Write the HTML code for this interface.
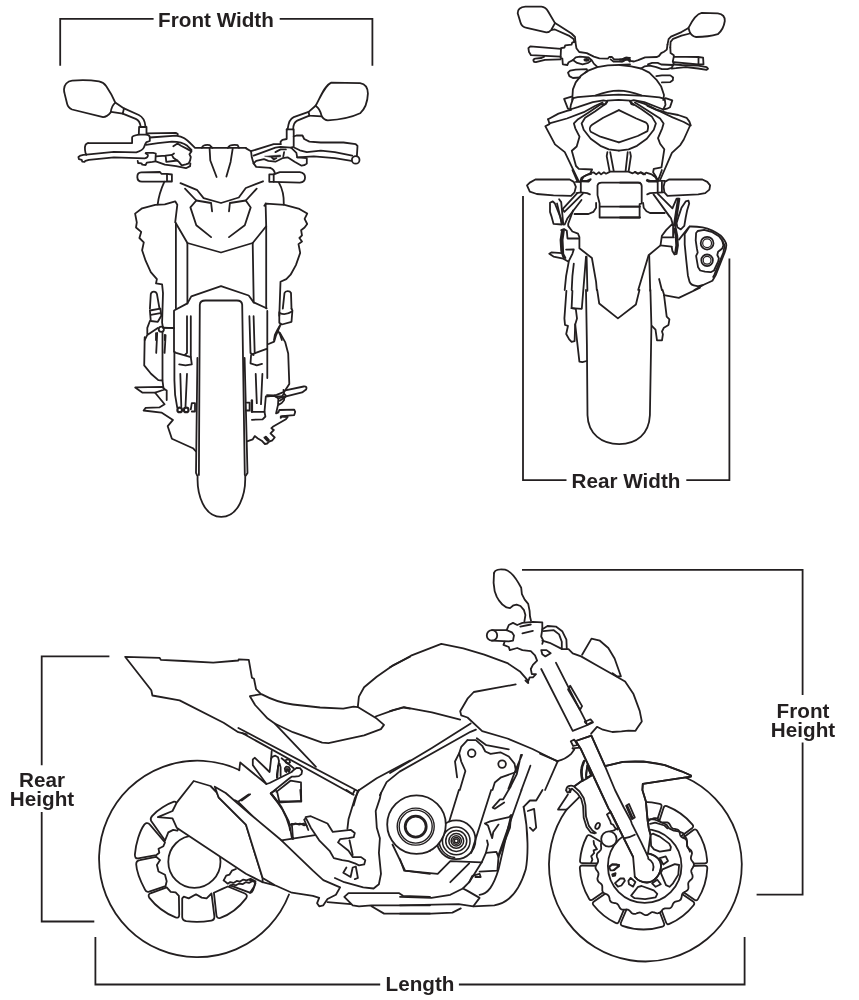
<!DOCTYPE html>
<html><head><meta charset="utf-8">
<style>
html,body{margin:0;padding:0;background:#fff;}
body{width:859px;height:1000px;overflow:hidden;position:relative;font-family:"Liberation Sans",sans-serif;}
svg{position:absolute;left:0;top:0;display:block;}
.lbl{position:absolute;font-weight:bold;font-size:19.5px;line-height:19px;color:#231f20;text-align:center;white-space:nowrap;transform:translateX(-50%) scaleX(1.06);will-change:transform;}
</style></head><body>
<svg width="859" height="1000" viewBox="0 0 859 1000">
<g id="dims" fill="none" stroke="#231f20" stroke-width="1.8" stroke-linecap="butt" stroke-linejoin="miter">
<path d="M60.2 65.8V18.9H153.6"/>
<path d="M279.7 18.9H372.4V65.8"/>
<path d="M523 196V480.2H566.5"/>
<path d="M686.3 480.2H729.4V258.4"/>
<path d="M109.4 656.3H41.7V765.3"/>
<path d="M41.7 812V921.5H94.3"/>
<path d="M522 569.9H802.6V695"/>
<path d="M802.6 742.4V894.6H756.6"/>
<path d="M95.4 937V984.5H380.2"/>
<path d="M458.9 984.5H744.6V937"/>
</g>
<g id="front" fill="none" stroke="#231f20" stroke-width="1.8" stroke-linecap="round" stroke-linejoin="round">
<path d="M64 89.2C64.1 85.1 67.2 81 72.1 80.6C79.4 80 91.7 80.2 99 81.4C102.3 82.1 104.7 83.9 106.3 86.3C109.6 91.2 113.3 97.7 115.3 102.6C112.9 104.6 111.2 108.3 110.7 112.4C108.8 114.8 106.3 117.1 103.1 117.1L72.1 109.5C69.3 108.3 67.6 105.9 67.1 103.8L64.6 93.6C64.1 92 64 90.4 64 89.2Z"/>
<path d="M115.6 102.7L124 108.4L122.7 113.7L111.2 111.9"/>
<path d="M124 108.4L138.8 115C143.2 117.1 144.9 120.6 145.4 126.2"/>
<path d="M122.7 113.7L135.7 118.9C139.2 120.6 140.2 123.3 140.6 126.2"/>
<path d="M139.1 127L146.5 127L146.5 134.4M139.1 127L138.8 134.4"/>
<path d="M88.1 143.1L132.1 143.1L132.1 137.5C132.1 136.1 134.2 135.4 138.8 134.7L146.8 134.7C148.9 135.1 149.8 136.1 149.8 137.5L149.8 141L146.5 142.1C145.1 143.7 144.7 145.8 144 147.2C143.3 149.3 141.9 150.5 136.3 152.4L113.9 151.9L86.3 154.6"/>
<path d="M88.1 143.1C85.6 143.5 84.6 146.5 85 150C85.3 152.8 86 154.2 86.3 154.6"/>
<path d="M86.3 154.6L83.3 154.9L80.5 155.6L78.4 157L78.9 159.1L81.7 159.8L82.2 161.6L84.5 161.9L85.4 160.8L88.9 159.8L113.9 157.4L144.7 158.4C147 158 148.2 156.6 147.9 154.9L145.6 153.2"/>
<path d="M137.7 160.8L138.1 163L141.5 163.3L142.3 164.7L145.6 165L146.8 162.6L152.4 161.9L155.4 161.4L155.8 153.5L153.1 152.8L146.1 152.8"/>
<path d="M147 133.3L176.1 132.9L177.8 134L177.5 135.4"/>
<path d="M149.8 137.5L176.1 135.6C183.1 136.5 185.9 138.9 191.5 144.4L195 147.9L246 147.9"/>
<path d="M146.1 144.9L157.9 143.1L171.9 141.7C178.2 141.7 183.8 143.1 187.3 145.8L191.5 150"/>
<path d="M173.3 146.3L177.5 143.5L181 145.8L186.6 148.6L191.5 151.4L189.4 154.2L190.8 157L190.1 160.5L188.7 163.3L185.9 164.4L181.7 165.4L178.9 161.9L176.1 159.8L173.3 157.7L171.9 154.9L174 153.5"/>
<path d="M155.8 156.3L165.6 155.6L171.9 154.9M165.6 155.6L166.3 161.9L177.5 160.5"/>
<path d="M155.8 161.4L164.9 164.7L176.1 166.1L185.9 168.2L190.1 166.1L190.4 163.3"/>
<path d="M141.2 172.4C135.9 172.8 135.9 181.5 141.9 181.7L167 181.5M141.2 172.4L160 172L161.4 173.8L167 173.8L171.9 174.5L171.9 181.5L167 181.5L167 173.8"/>
<path d="M201.9 147.9C202.6 145.1 205.4 144.6 209.6 145.1L212.4 147.9M227.8 147.9C229.2 145.1 233.4 144.6 237.6 145.1L239 147.9"/>
<path d="M209.6 148.6L210.3 160.5L216.6 177M232.7 148.6L230.6 161.9L226.4 176.6"/>
<path d="M180.5 183.2L197.3 190.2L203.6 198.1L221 203L238.8 197.5L245.8 188L263 181.3"/>
<path d="M185 188.6L196.3 200.5L190.4 207.4L196.3 225.2L211.1 237.1"/>
<path d="M196.3 200.5L211.1 203L212.1 211.3"/>
<path d="M256.7 188.6L245.8 200.5L250.7 207.4L244.8 225.2L229 237.1"/>
<path d="M245.8 200.5L229.9 203L229 211.3"/>
<path d="M175.9 223.2L187.4 243L221 252.5L252.7 243L266.2 226.2"/>
<path d="M164.4 181.7C161.7 187.6 158.7 195.5 157.7 204.4"/>
<path d="M175.9 308.3L175.9 223.2"/>
<path d="M187.4 243L187.4 303.4"/>
<path d="M252.7 243L253.7 302.4"/>
<path d="M266.2 308.3L266.2 226.2L265.6 203.4"/>
<path d="M174.5 310.3L187.4 303.4L191.3 296.4L221 286.2L248.7 295.5L253.7 302.4L266.6 308.3"/>
<path d="M331.3 82.6L360.1 83.1C365.3 84 367.9 87.5 367.9 93.6C367.6 101.4 364.5 109.3 360.1 113.3C352.2 117.1 338.3 119.8 327.8 120.3C325.2 120.3 323.4 118.9 321.7 116.3C320.8 111.9 319.1 108.1 315.6 105.8C320.8 96.2 325.2 84.8 331.3 82.6Z"/>
<path d="M315.6 105.8L308.6 111.9L309.4 115.7L321.7 116.3"/>
<path d="M308.6 111.9L293.7 117.1C290.2 118.5 288.5 121.5 287.6 129.4"/>
<path d="M309.4 115.7L297.2 120.6C294.3 122 293.2 125 293.2 129.4"/>
<path d="M286.7 129.4L293.7 129.4L293.7 146.8L291.1 147.7"/>
<path d="M286.7 129.4L286.7 139L282.4 139.8L280.6 141.6L280.6 144.2"/>
<path d="M293.7 136.4L296.4 135.5L302.5 135.5L304.2 139L309.4 141.6L320.8 142.5L343.5 142.5L355.7 144.2L357.5 146L356.9 155.9"/>
<path d="M294.6 147.7L299.8 150.3L306.8 152.1L320.8 150.7L334.8 152.1L352.2 155.6"/>
<path d="M297.2 157.3L313.8 156.4L334.8 158.2L351.4 160.8"/>
<circle cx="355.7" cy="159.9" r="3.8"/>
<path d="M251 151.2L273.7 144.2L280.6 144.2"/>
<path d="M253.6 155.6L275.4 147.7L280.6 146.8L291.1 147.7L296.4 152.9L297.2 157.3L306.8 158.2L306.8 163.4L304.2 165.2L301.6 165.7L294.6 161.7L287.6 157.3L282.4 158.2L275.4 161.7L268.4 160.8L264 159.1L256.2 160.8L253.6 163.4L256.2 166.9L270.2 167.8"/>
<path d="M275.4 152.1L280.6 149.4L285.9 149.4M284.1 152.1L283.3 156.4"/>
<path d="M271.9 157.7L273.7 159.4L276.3 158.2"/>
<path d="M264.9 156.2L280.6 155V156.8L271.9 157.5Z" fill="#231f20" stroke-width="0.5"/>
<path d="M246.1 148.4L251 151.2L251.8 157.3L253.6 163.4"/>
<path d="M269.3 174.4L273.7 174.4L273.7 181.8L269.3 181.8Z"/>
<path d="M273.7 174.4L279.8 172.1L299.8 172.1C306.8 173 306.8 181.8 299.8 182.6L273.7 181.8"/>
<path d="M270.2 167.8C272.8 168.7 274.5 171.3 275 173.4"/>
<path d="M278.9 182.6C282.4 188.7 284.1 195.7 283.8 204.5"/>
<path d="M264.4 205.7L266.2 203.6L284.5 204.8L299.4 208.9L307.2 213.6L304.6 218.8L307.2 224L304.6 227.5L301.1 230.2L302 235.4L299.4 238L302 241.5L298.5 244.1L300.2 252.9L295.9 265.1L290.6 274.7L286.3 279.1L280.5 281.7L279.3 315.7"/>
<path d="M282.8 308.7L284.5 293C285.4 290.4 289.8 290.4 291 293L291.5 308.7"/>
<path d="M279.3 312.2L279.3 322.7L281.9 324.5L291.5 321.8L292.4 310.5L291.5 308.7"/>
<path d="M279.8 313.1C283.7 314.8 288 314 292 311.4"/>
<path d="M280.5 324.5L277.5 329.7L274.9 334.9L274 340M277.5 329.7L280.2 334.9L281.9 340"/>
<path d="M175.2 222.3L177.3 204.8L175.2 201.3L164.8 204.3L155.2 204.8L142.1 208.3L135.1 213.6L136.8 222.3L136 227.5L141.2 231.9L139.4 238L143.8 242.4L142.1 250.2L145.6 260.7L150.8 272.1L156.9 279.1L156 283.4L162.1 284.3L163 293L162.1 322.7L163 327.9L173.5 327.9"/>
<path d="M149.9 308.7L150.8 293.9C151.7 290.9 156 290.9 156.9 293.9L159.5 308.7"/>
<path d="M149.9 310.5L160.4 308.7L161.3 315.7L157.8 321.8L150.8 321Z"/>
<path d="M150.8 314.8L160.4 313.1"/>
<path d="M149.9 321L147.3 327.9L147.3 334.9L144.7 340M147.3 334.9L157.8 327.9"/>
<circle cx="161.3" cy="329.3" r="2.6"/>
<path d="M156 340L156 333.2M164.8 340L164.8 334.9"/>
<path d="M198.9 475L199.8 304.7C200 301.5 202.3 300.5 205.4 300.5L236.9 300.5C240.6 300.5 241.9 301.7 242.2 304.7L244.8 475"/>
<path d="M174 311L174 351.8L176.1 352.9L190.8 357.1L191.8 364.4L185.5 365.4L179.2 364.4"/>
<path d="M267.3 311L267.3 378M267.3 348.7L255.7 352.9L251.1 355L250.5 363.3L256.8 365.4L262 363.8"/>
<path d="M187 316.2L187 352.9L184.9 355M190.8 316.2L190.8 357.1"/>
<path d="M249.4 316.2L250.5 352.9L253.6 355M253.6 316.2L254.7 352.9"/>
<path d="M174.4 351.8L174.4 380.1L175.1 394.8L177.2 407.4M180.3 373.8L181.3 406.3M187 373.8L185.5 406.3"/>
<circle cx="179.7" cy="409.9" r="2.3" stroke-width="2.2"/>
<circle cx="186.2" cy="409.9" r="2.3" stroke-width="2.2"/>
<path d="M190.8 409.4L191.8 403.2L195 403.2L195 411.5L191.8 411.5"/>
<path d="M255.7 373.8L256.8 403.2M262.4 373.8L261 404.2"/>
<path d="M144.7 337.2L144.2 365.4L151 373.8L158.3 380.1L162.5 380.5L163.5 388.5L166.7 390.6L166.7 400"/>
<path d="M157.2 333L156.2 352.9M162.5 331.9L162.5 380.1M165.6 335.1L164.6 352.9"/>
<path d="M163.5 327.7L174 328.1"/>
<path d="M135.2 387.4L162.5 386.8L164.6 389.5L155.1 392.7L142.6 392.7Z"/>
<path d="M155.1 392.7L164.6 404.2L159.3 407.4L145.7 407.8L143.6 410.5L161.4 412.6L173 419.9L167.7 426.2L171.9 438.8L192.9 448.2L196 451.4"/>
<path d="M197.4 358L196 472.9L197.6 476.5C196.9 494.1 203.8 516.9 221.2 516.9C238.8 516.9 245.8 494.1 245.2 476.5L247.5 472.9L244.6 358"/>
<path d="M279.8 326.4L275.8 336L274.2 341.6L268.6 344"/>
<path d="M279.8 332.8L285.3 342.4L288.2 353.5L289.3 383.9L284.1 391.9L276.6 394.8L273.4 395.4L267 395.1"/>
<path d="M285.3 390.3L303.7 386.5Q307.7 386.2 306.1 389.5L302.1 392.4L286.1 396.4L279.8 400.7"/>
<path d="M246.8 402.6L249.6 402.6L249.6 410.5L246.8 410.5"/>
<path d="M251.9 400.5V411.6" stroke-width="2.4"/>
<path d="M251.9 411.9L264.5 411.9L265.8 396.5L272.8 395.8L275.6 396.5L278.4 398.4L278 404.9L276.1 413.3L278.4 412.3L279.3 410L294.2 409.6L295.2 411.9L294.2 415.1L282.1 416.1L280.7 417.9"/>
<path d="M251.9 419.8L262.6 419.3L265.4 416.5L264.5 411.9"/>
<path d="M283.5 390L284 393.7L282.1 396.1L275.6 396.5M284 393.7L285.9 395.6"/>
<path d="M278.4 398.4L284.5 396.5L284 400.2L281.7 403L278.4 404.9"/>
<path d="M280.7 416.5L287.7 417L285.9 419.3L272.8 426.8L271.4 428.2L273.8 430L270.5 433.3L274.7 437.5L272.4 440.3L269.1 441.7L267.2 443.5L264.9 444L261.7 440.7L257.9 438.4L254.7 436.1L252.8 439.3L247.7 441.2"/>
<path d="M264.5 437.5L267.5 440.8M265.8 436.8L268.8 440" stroke-width="2"/>
</g>
<g id="rear" fill="none" stroke="#231f20" stroke-width="1.8" stroke-linecap="round" stroke-linejoin="round">
<path d="M517.7 13.3C517.7 9.1 520.5 7 525.4 6.7L541.4 6.7C544.9 7 546.6 8.7 548 11.2L555 23.1L551.2 30C549.8 31.9 548.4 32.4 546.3 32.4L526.8 27.9C523.3 27.2 521.2 25.1 520.5 22.4Z"/>
<path d="M555 23.1L558.2 25.1L571.5 33.5L575 37L575.4 41.9"/>
<path d="M551.9 30L554.4 29.3L568.7 35.6L573.6 39.1L574.3 41.9"/>
<path d="M574.3 41.9L572.2 42.6L571.5 44.7L565.2 45.4L564.5 47.5L561 48.2L560.6 58L562.4 58.7L562.8 64.3L567.3 65L568.7 62.2L572.9 60.1L575.7 57.3L579.9 56.6L588.2 57.3L591.7 60.1L593.8 63.6L597.3 66.8"/>
<path d="M575.4 41.9L576.4 48.2L579.2 52L586.8 53.1L593.8 56.6L599.4 58.4L607.8 58.7L609.2 57L612 57L614.1 59.4L621.8 59.4L626 57.6L630 58"/>
<path d="M610.6 59.4L613.4 61.5L621.8 61.5L626 59.4L630 60.1"/>
<path d="M572.9 60.1L577.1 62.9L582.6 64.3L588.2 62.9L591 60.8"/>
<ellipse cx="586.6" cy="59.8" rx="2.2" ry="1" fill="#231f20"/>
<path d="M561 48.9L530.3 46.4L528.4 48.2L528.9 51.7L531 55.2L560.6 56.6"/>
<path d="M560.6 59.4L544.9 59.8L535.8 62.2C533.1 62.2 532.4 59.4 535.1 58.7L541.4 58L544.2 56.6"/>
<path d="M585.4 72.6L587.5 71.2L586.8 69.2L575.7 69.6L570.1 70.6L568 72.6L569.4 76.1L572.9 78L579.9 77.5"/>
<path d="M572.2 100L572.9 89.4L575.7 82.4L581.2 75.4L588.2 70.6L597.3 67.1L607.8 65.4L630 64.5"/>
<path d="M701.7 12.9L717.8 13.3C722.7 14 725.1 16.8 724.8 21C724.1 25.8 721.3 31.4 717.8 34.2C710.8 36.3 702.4 37 696.1 37C693.3 36.6 691.2 34.9 689.9 32.4L688.5 27.9C691.2 22.4 696.1 14 701.7 12.9Z"/>
<path d="M688.5 27.9L681.5 32.1L671 36.6L668.6 39.1L667.5 44.7"/>
<path d="M689.9 33.5L681.5 35.6L673.1 38.8L670.6 41.9L670.3 47.5"/>
<path d="M667.5 44.7L666.8 49.6L664 51.7L661.2 53.1L659.1 55.9L657 57L645.1 57.3L638.2 60.1L634 61.5L630.5 60.8L628.4 58L626.3 57.6L622.8 59.4L620 59.4"/>
<path d="M629.8 61.5L627.7 59.4L625.6 59.8L622.8 61.5L620 61.2"/>
<path d="M670.3 47.5L670.6 53.1L673.8 55.2L673.8 56.6"/>
<path d="M673.8 56.6L698.2 57L703.1 57.6L703.5 64.3L698.2 64.5L673.8 62.2M698.5 57L698.5 64.5M673.8 56.6L672.8 61.5L673.8 64.5"/>
<path d="M673.8 64.5L681.5 65L698.2 65.7L706.6 67.1L708 68.7L706.6 69.9L698.2 68.5L685.7 67.1L675.9 68.2L671.7 68.5"/>
<path d="M647.9 64.3L652.1 62.9L657.7 62.9L661.2 64.5L673.1 65"/>
<path d="M641 68.5L644.4 66.4L650 65.7L656.3 67.1L661.9 69.2L667.5 69.2L671.7 67.8L673.1 65"/>
<path d="M656.3 76.1L661.9 75.4L670.3 75.4L673.1 77.5L672.8 80.3L670.3 82.1L661.9 82.4"/>
<path d="M620 65L631.2 66.4L641 68.5L649.3 72.6L656.3 79.6L661.2 86.6L664 95L663.3 100"/>
<path d="M548.1 119.2L558.5 113.6L566.9 110.8L571.1 109.9"/>
<path d="M548.1 119.2L549.4 123.4L566.9 118.5L583.7 112.2L594.9 106L602.5 102.5"/>
<path d="M549.4 124.1L545.3 126.2L555 144.4L564.8 152.1L578.8 181.4"/>
<path d="M603.2 103.9L600.4 104.6L587.9 112.9L578.1 119.2L573.9 123.4L575.3 128.3L579.5 136.7L576.7 146.5L571.8 150.7L576 166L578.8 168.8L592.1 169.5L590.7 172.3"/>
<path d="M607.4 101.1L606.7 102.5L604.6 104.6L594.9 111.5L585.1 117.8L581.6 123.4L583.7 129.7L590.7 138.8L600.4 145.8L608.8 149.3L618.9 150.7"/>
<path d="M618.9 110.1L603.2 117.8L592.1 124.8C589.5 126.6 589.3 129.7 590.7 131.8L600.4 136.7L618.9 142.3"/>
<path d="M607.4 152.1L606.7 156.2L609.5 170.9M610.2 152.1L613.7 170.9M627.7 152.1L625.6 170.9M630.1 152.1L630.9 156.2L628.7 170.9"/>
<path d="M580.9 181.4L583.7 176.5L590.7 173L593.5 172.3L596.2 174.4L599 172.3L601.1 174.4L603.9 172.3L606 173.7L610.2 171.6L628.4 171.6L632.6 173.3L635.4 171.9L638.2 173.7L641 172.3L645 174.4"/>
<path d="M580.9 181.4L588.6 181.7L590.7 179.3"/>
<path d="M618.9 110.1L636.3 118.5L646.1 122.7C648.2 124.1 648.6 126.9 647.5 131.1L637.7 136L618.9 142.3"/>
<path d="M630 101.1L632.1 103.2L641.9 109.4L651.7 116.4L655.9 123.4L653.8 129.7L646.8 138.8L637 145.8L628.6 149.3L618.9 150.7"/>
<path d="M634.9 102.5L640.5 106L650.3 112.2L660.1 118.5L663.6 123.4L662.2 128.3L658 138.1L660.1 143.7L664.3 149.3L661.5 167.4L653.8 168.8L653.1 172.3L655.9 176.5L657.3 181.4"/>
<path d="M636.3 101.1L644.7 103.9L655.9 109.4L667.1 112.9L678.2 115L686.6 117.8L689.4 121.6L690.8 125.5"/>
<path d="M647.5 106L658.7 110.8L672.6 117.4L683.8 122L690.1 125.5L683.8 139.5L680.3 145.1L671.9 152.8L660.1 180"/>
<path d="M634.9 171.9L637.7 173.7L640.5 172.3L643.3 174.4L646.1 172.7L651.7 174.4L655.9 177.2L657.3 181.4"/>
<path d="M646.8 180.7L648.9 181.7L657.3 181.7"/>
<path d="M527 185.4L529.8 182.6L535.4 179.5L569.6 179.5L573.8 181.9L575.9 186.8L574.5 192.4L571 195.8L553.5 195.4L536.8 194L529.8 191.7Z"/>
<path d="M575.9 181.9L580.8 181.9L580.8 192.4L576.6 193.1"/>
<path d="M572.4 170L577.3 181.2"/>
<path d="M580.1 181.9L581.5 177.7L587.1 174.9L591.2 173.9"/>
<path d="M580.8 180.9L587.1 180.9L589.9 179.5M580.8 192.4L587.1 193.1L589.9 194.4"/>
<path d="M597.5 195.1L597.5 185.4C598 183.3 599.6 182.6 601.7 182.6L640 182.6M597.5 195.1L599.6 203.5L599.6 217.5L640 217.5M599.6 206.6L640 206.6"/>
<path d="M596.1 202.8L596.1 207.7L593.3 211.9L588.5 214L574.5 214"/>
<path d="M577.3 193.1L562.6 209.1L564.4 211.9L582.9 193.7M581.5 200L567.5 218.2L564.7 224.5"/>
<path d="M573.1 210.5L568.2 223.8L568.2 225.9L572.4 231.5L578 233.6L579.4 237.1L579.4 248.2L591.9 258L596.1 281.8L596.8 290"/>
<path d="M550 202.8L552.8 201.4L554.9 203.5L557.7 210.5L560.5 217.5L561.9 224.5L553.5 223.8L551.4 216.1L550 211.9Z"/>
<path d="M559.1 199.3L561.2 202.1L563.3 224.5M557 203.5L561.9 223.8"/>
<path d="M561.2 230.1L564 229L566.8 230.8L567.5 238.5L578.7 238.5"/>
<path d="M561.9 230.8L560.5 239.9L561.2 251L563.3 257.3M564 230.1L562.6 239.9L563.3 253.8L565.4 258M563 230.4L561.6 239.9L562.3 252.4L564.4 257.7"/>
<path d="M549.3 253.8L551.4 252.4L561.9 253.1M549.3 253.8L553.5 256.6L563.3 258.7L568.2 261.5"/>
<path d="M566.1 249.6L573.8 249.4L572.4 253.8L568.9 260.8L566.1 276.2L564.7 290"/>
<path d="M573.8 263.6L572.4 276.2L571.7 290"/>
<path d="M620 182.6L638.2 182.6C640.7 182.9 641.7 184 641.7 186.1L641.7 203.5L639.6 204.2L639.6 217.5L620 217.5M620 206.6L639.6 206.6"/>
<path d="M653.5 175.6L657 178.4L657.7 181.2L657.7 192.4M661.9 181.9L661.9 191.7"/>
<path d="M647.2 179.8L650 180.9L664.7 180.9M647.2 194.4L650 193.1L663.3 192.4"/>
<path d="M661.9 170L659.1 177.7L657.7 181.2"/>
<path d="M664.7 181.9L668.9 179.5L702.4 179.5L707.3 181.9L710.1 185.4L709.4 189.6L705.2 193.1L698.2 194.4L667.5 195.8L664.4 192.4L663.6 186.8Z"/>
<path d="M643.1 202.8L643.7 207.7L646.5 211.2L650 213L664.7 213"/>
<path d="M653.5 194.4L671 218.2L672.4 223.1M657.7 193.7L672.4 208.4L676.6 198.6L679.4 198.6M655.6 197.2L669.6 216.8"/>
<path d="M685.7 201.4L688.5 200.7L689.2 203.5L687.1 210.5L685.7 217.5L684.3 225.9L680.8 229.4L677.3 227.3L676.6 223.1L678.7 216.1L681.5 207.7Z"/>
<path d="M678 198.6L675.9 211.9L673.8 225.9M679.4 199.3L677.3 213.3L675.2 228.7"/>
<path d="M675.9 228.7L677.3 235.7L678 245.4L676.6 253.8L674.5 254.5L672.4 251L671.7 246.8M674.2 228.7L675.6 235.7L676.2 245.4L675.2 252.4"/>
<path d="M672.4 223.8L666.1 230.1L661.9 235.7L660.5 245.4L671.7 246.6M661.9 237.1L673.8 237.3M673.1 224.5L673.1 237.1"/>
<path d="M660.5 245.4L648.6 255.2L638.2 290M659.1 279L661.9 290"/>
<path d="M586 289.9L586.9 344.5L587.5 415.3C588.1 433.9 601.5 444.1 619.2 444.1C636.9 444.1 649 433.9 649.9 415.3L651.4 325.9L650.4 289.9"/>
<path d="M597.2 289.9L599.2 303.5L617.9 318.4L635.9 304.5L639.5 289.9"/>
<path d="M662.6 289.9L663.9 294.2L666.7 316.6L669.4 319.4L668.5 324.9L663.9 327.7L662 331.5L662.9 334.3L662 340.4L657 340.4L655.5 329.6L651.8 325.9"/>
<path d="M663.9 295.1L678.8 297.9L700 287.7"/>
<path d="M573.2 98.1L577.7 97.1L592.8 95.9L618.6 94.6L644.3 95.9L659.4 97.4L664.7 98.9L665.5 104.9L663.2 109.5"/>
<path d="M595.9 95.4C604.9 92.1 612.5 90.7 618.6 90.6C624.6 90.7 632.2 92.1 641.3 95.4"/>
<path d="M573.2 98.1L570.9 104.9L570.1 109.5L577.7 107.2L592.8 102.2L603.4 100.4L607.2 101.2L605.7 104.2L603.4 104.9"/>
<path d="M663.2 109.5L659.4 108L644.3 102.2L633.7 100.1L629.9 101.2L631.4 104.2L633.7 104.9"/>
<path d="M607.2 100.7L618.6 99.8L630.2 100.7"/>
<path d="M571.6 96.6L564.1 98.9L567.9 108.7L570.1 109.5"/>
<path d="M665.5 98.1L672.3 100.4L670 107.2L667 108.7L663.2 109.5"/>
<path d="M586.6 256.6L587.4 290.8"/>
<path d="M586 256.6L581.8 308.8L571.6 308.2"/>
<path d="M566.4 290.8L564.4 318.4L565 325L568 325.8L566.2 334L569.2 339.4L571.6 341.8L574.6 341.2L575.2 324.4L577 318.4L575.8 308.8L571.6 308.2L572.4 290.8"/>
<path d="M575.2 324.4L579.4 361.6L582.4 362.2L586.6 361"/>
<path d="M649.2 255.4L650.2 290.8"/>
<path d="M679 239.6L688.7 227.3L689.6 226.5C694.4 226.4 698.5 226.7 702.6 227.3C706.7 228.1 709.9 229.4 712.4 230.6C715.6 232.2 718.5 233.9 720.5 235.5C722.6 237.5 723.8 239.2 724.6 240.4C726.2 242.8 726.6 244.4 726.2 246.1C726.1 248.5 725.4 250.6 724.6 252.6L715.6 275.4L712.4 280.7L702.6 285.2C700.2 286.2 697.7 286.2 696.1 285.8C692.8 285.6 690.4 284 689.6 281.9L687.9 275.4L686.3 260.7L684.7 244.4L684.7 233.9L689.6 226.5"/>
<path d="M696.1 233L697.7 231L704.2 229.8L712.4 232.2L718.9 236.3L722.2 240.4L723.4 245.3L722.2 248.5L718.1 251.8L717.3 255L718.9 258.3L718.1 261.6L714 270.5L710.7 272.2L705 271.7L700.2 270.5L698.1 267.3L696.9 260.7L696.1 255.9L697.7 252.6L696.9 248.5L695.7 240.4Z"/>
<path d="M722.2 240.4L724.6 245.3L723.4 252.6L714.4 274.6L713.2 277"/>
<path d="M694.4 290L702.6 285.2"/>
<circle cx="707.1" cy="243.2" r="6.4"/><circle cx="707.1" cy="243.2" r="4.4" stroke-width="1.2"/>
<circle cx="707.1" cy="260.3" r="5.8"/><circle cx="707.1" cy="260.3" r="3.9" stroke-width="1.2"/>
</g>
<g id="side" fill="none" stroke="#231f20" stroke-width="1.8" stroke-linecap="round" stroke-linejoin="round">
<path d="M260.3 693.4L256.1 689.2L254 678.8L251.9 677.7L248.8 659.9L238.7 659.3L238.3 660.5L213.2 662.6L183.8 661L160.8 659.9L159.7 657.8L125.1 656.8L151.3 690.3L152.4 695.5L179.6 700.4L223.6 722.8L238.3 732.2L246.7 734.3"/>
<path d="M239.3 770A98.3 98.3 0 1 0 289 894.5"/>
<path d="M239.2 770.4L240.2 762.5L266.4 784L269.6 783L291.6 772L293.7 769.9L296.8 767.8L300 768.1L302.1 770.9L301.5 774.1L298.9 776.1L294.7 776.7L291.6 776.7L289.5 778.2L270.6 793.4L278 802.9L282.2 809.2L286.3 817.5L289.5 827L290 830"/>
<path d="M276.9 777.7L276.9 774.6L279 761L278 757.3L275.3 755.7L272.2 756.8L271.1 758.9L269.6 772L254.9 757.8L252.8 759.4L252.8 765.1L266.4 784"/>
<path d="M271.1 758.9L271.7 751"/>
<path d="M277.4 777.2L278 766.2L279.5 763.6L280.6 767.2L280.6 776.1"/>
<path d="M285.3 771.4L284.8 768.3L286.3 766.7L289 767.2L290 769.3L289 772M286.3 772L286.9 768.8L288.4 769.3L288.4 771.4"/>
<path d="M285.3 760.4L286.9 759.4L289.5 759.9L290 762.5L287.9 763.6L285.8 762.5Z"/>
<path d="M281.6 758.3L293.7 768.3"/>
<path d="M276.4 791.9L290.5 780.7L301 782.4L301.2 800.8L278.5 802.6L271.1 793.6"/>
<path d="M235 800.2L238.1 801.8L248.6 794.5M238.1 801.8L266.4 830M235 813.3L243.4 822.8L245.5 830"/>
<path d="M290 824.9L292.1 823.8L293.7 824.5L295.8 823.6L297.9 824.2L300 823.6L302.1 824.5L304.2 825.4"/>
<path d="M304.2 819.6L307.3 817L325 823.8M304.2 819.6L308.3 830"/>
<path d="M146.3 823.2Q148.3 822.6 149.9 824.6L165 842.5L163.4 846.2L158.5 848.7L159.3 852.7L156.1 855.2L138.1 858.4Q134.6 858.8 134.9 854.4C135.7 843.8 139.8 830.7 144.3 824.6Q145.2 823.6 146.3 823.2Z"/>
<path d="M139.8 860.1L156.1 856.8L160.1 860.1L156.9 865L158.5 871.5L165 874.7L166.7 881.3L165.5 886.2L149.2 891.7Q146.3 892.7 145 889.7C140.6 881.3 136.5 871.5 136.2 864.2Q136.2 860.7 139.8 860.1Z"/>
<path d="M150.4 893.3L166.7 887.3L170.7 891.9L175.6 892.3L178.9 895.9L179.2 914.7Q179.2 918.7 175.6 917.4C165.9 913.5 156.1 906.5 149.2 897.6Q147.6 894.6 150.4 893.3Z"/>
<path d="M182.2 898.4L183.8 896.7L188.7 898.4L196 894.3L201.7 897.6L206.6 898.4L211.5 893.5L214.4 916.3Q214.7 920.1 211.2 920.7C201.7 922.3 193.6 922.3 186.2 921.2Q182.5 920.4 182.2 917.1Z"/>
<path d="M213.9 892.7L222.9 888.6L227.8 886.5L244.9 893.5Q248.2 895.1 246 898.4C239.2 907.3 229.4 914.7 220.4 917.9Q216.7 918.7 216.4 915.2Z"/>
<path d="M230.2 885.3L249.8 892.7Q251.9 893 253 890.2L255.5 883.2"/>
<path d="M165 840.5L151.2 821Q149.9 818.5 152 816.1C157.7 809.6 167.5 803.9 174 801.7Q176.4 801.4 177.3 804.7"/>
<path d="M165 840.5L166.7 836.4L168.3 832.4L173.2 829.9L177.3 830.7L178.9 828.3"/>
<path d="M223.7 880.4L226.2 875.6L229.4 874.7L231.9 870.7L235.9 869"/>
<path d="M223.7 880.4L227.8 883.7L230.2 882.1L233.5 882.9L236.7 880.9L240 881.6L243.3 879.6L246.5 880.4L250.6 878.8L255.5 881.3"/>
<path d="M229.4 886.2L232.7 884.5L235.9 885.3L239.2 883.5L242.5 884.2L245.7 882.2L249 882.9L252.2 881.3"/>
<circle cx="194.4" cy="861.7" r="26.1"/>
<path fill="#fff" d="M193.7 781L176.7 802.6L172.5 811L157.9 817.2L172.5 818.3L176.7 827.7L183 831.9L245.9 873.8L262.6 882.2L262.6 878L245.9 824.6L218.6 797.3L216.8 792.5L210.5 786Z"/>
<path d="M262.6 882.2L275 885.3"/>
<path fill="#fff" d="M214.8 786.7L225.7 793L250 814.1L281.4 840.3L312.9 870.7L323.3 880.1L340.1 887.4L335.9 894.8L327.5 899L323.3 905.3L319.2 906.3L317.1 903.2L319.2 897.9L312.9 895.8L291.9 892.7L275 885.3L262.6 878L245.9 824.6L218.6 797.3Z"/>
<path d="M241.7 800.5L250.1 794.2"/>
<path d="M249.9 696.2L261.4 694.1C271.9 699.7 280.3 702.9 292.9 704.5L320.1 707.5L343.2 708.7L353.6 706.6L357.8 707.1L376.7 718.6L384 724.9L380.9 729.1L364.1 735.3L328.5 743.1L322.2 742.7L292.9 732.2L275.1 723.8L267.7 718.6L255.1 705Z"/>
<path d="M357.8 707.1L358.9 696.6L364.1 687.2L376.7 676.7L393.5 665.1L410 656.8"/>
<path d="M375.6 716.5L393.5 710.2L403.9 707.5L410 708.7"/>
<path d="M238.4 728L356.8 790.5M242.6 733.3L353.6 794.7"/>
<path d="M275.1 723.8L315.9 766.8"/>
<path d="M357.8 790.9L364.1 786.7L376.7 778.3L410 760.5"/>
<path d="M357.8 790.9L353.6 805.5"/>
<path d="M390 667.2L411 655.7L441.3 643.8L463.3 648.4L484.3 654.7L507.4 663.1L519.9 671.4L527.3 679.8L528.3 683"/>
<path d="M515.7 684.4L494.8 688.2L473.8 692L467.5 698.7L460.2 711.2L461.2 715.4L467.5 717.5L482.2 731.2L507.4 738.5L532.5 749L557.6 761.5"/>
<path d="M390 711.2L403.6 707.1L431.9 712.3L460.2 719.6"/>
<path d="M390 773.1L431.9 747.9L470.7 723.4M475.9 729.7L470.5 731.8L399.6 771.6L386.6 782.1L379.9 795.1"/>
<path d="M467.5 740.2L475.9 740.2L482.2 745.8L485.3 751.5L490.6 753.8L500.4 752.3L508.8 756.5L514.5 763.6L516.2 772L501.1 777.3L494.8 782.5L492.5 790"/>
<path d="M476.8 738.3L486.4 745.2L508.8 749.4"/>
<path d="M467.5 740.2L461.2 746.9L459.2 753.2L461.2 761.5L465.4 771L459.8 790"/>
<path d="M459.2 753.2L455 761.5L457.1 777.3"/>
<path d="M521 754.8L516.8 774.1L510.5 786.7L508.4 788.8L515.7 769.9L522 754.8Z"/>
<path d="M510.5 786.7L503.2 799.3L500 799.3L492.7 807.6L494.8 808.7L504.2 802.4"/>
<path d="M530.4 765.7L521.4 790"/>
<path d="M557.6 761.5L545.1 790"/>
<circle cx="471.7" cy="753.2" r="3.8"/>
<circle cx="502.1" cy="764.1" r="3.8"/>
<circle cx="492" cy="635.4" r="5.2"/>
<path d="M492 630.2L506.7 630.2L511.9 632.3L514 635.4L513 640.7L508.8 641.3L492 640.7"/>
<path d="M506.7 630.2L508.8 625L513 622.9L517.2 625L522.4 622.9L532.9 621.8L542.3 622.4L542.3 629.2L541.2 636.5L543.3 640.7L542.3 643.8"/>
<path d="M520.3 626.6L530.8 624.5M522.4 633.3L532.9 630.8"/>
<path d="M504.6 641.7L503.5 644.9L508.8 647L509.8 650.1L517.2 648L522.4 650.1L530.8 651.2L535 655.3L537.1 660.6L532.9 664.8L530.8 669L531.8 674.2L536 674.2L532.9 677.4L529.7 677.4L527.6 682.6L525.5 680.5"/>
<path d="M542.3 629.2L547.5 626L555.9 626.6L562.2 631.2L566.4 639.6L566.8 649.1"/>
<path d="M543.3 631.2L553.8 630.2L559.1 634.4L561.8 641.7L561.8 649.1"/>
<path d="M542.3 640.7L549.6 642.8L562.2 649.1L568.5 649.1L572.7 653.3L581.1 656.4L595.7 664.8L612.5 674.2L625.1 681.5L633.5 694.1L639.7 710.9L641.8 721.4L637.6 727.6L635.5 730.8L628.4 730.6L621.5 731.4L612.3 732L602.9 729.7L597 726.8L591.1 733.7"/>
<path d="M582.1 654.7L591.5 638.6L599.9 640.7L608.3 648L614.6 658.5L620.9 676.3L616.7 676.3L612.5 673.2"/>
<path d="M541.2 650.1L546.5 650.1L550.7 653.3L545.4 656.4L542.3 654.3Z"/>
<path d="M541.2 669L572.7 730.8L586.3 725.5L591.1 722.6M555.9 662.7L586.3 722.4"/>
<path d="M570.2 685.7L582.1 706.1L580 709.8L568.1 689.5Z"/>
<path d="M584.8 721.8L590.5 719.3L593 722.4L587.4 724.9Z"/>
<path d="M494 573.2C494.7 569.7 499.6 568.7 505.1 569.7C510 571.1 514.9 576.7 518.4 582.9L521.2 587.8L521.9 594.1L524.7 599.7L528.2 603.9L529.6 610.9L530 616.5L531 620.7"/>
<path d="M494 573.2L493.6 582.9L494.7 591.3L496.8 596.9L498.9 600.4L502.4 604.6L506.5 607.4L510 608.1L513.5 605.3L516.6 604.6L520.5 606L524 610.2L525.4 615.1L524.4 621.4"/>
<path d="M684.6 777.0 A96.4 96.4 0 1 1 566.6 809.5"/>
<path d="M626.8 806.7 Q626.0 804.3 628.6 803.6 A63.8 63.8 0 0 1 659.7 803.9 Q662.2 804.6 661.4 807.0 L656.4 822.4 L631.5 822.2 Z"/>
<path d="M663.6 807.8 Q664.4 805.3 666.8 806.2 A63.8 63.8 0 0 1 692.5 824.6 Q694.1 826.6 692.0 828.2 L679.0 837.8 L658.6 823.2 Z"/>
<path d="M693.4 830.0 Q695.5 828.5 697.0 830.6 A63.8 63.8 0 0 1 707.2 860.7 Q707.4 863.3 704.8 863.4 L688.6 863.7 L680.4 839.7 Z"/>
<path d="M704.8 865.7 Q707.4 865.6 707.3 868.2 A63.8 63.8 0 0 1 697.9 899.1 Q696.5 901.3 694.4 899.8 L681.1 890.5 L688.6 866.0 Z"/>
<path d="M693.1 901.6 Q695.2 903.1 693.6 905.2 A63.8 63.8 0 0 1 669.4 923.9 Q667.0 925.0 666.1 922.5 L660.4 907.3 L679.8 892.4 Z"/>
<path d="M664.0 923.3 Q664.9 925.8 662.4 926.6 A63.8 63.8 0 0 1 622.5 925.8 Q620.0 924.9 621.0 922.5 L627.3 907.6 L658.3 908.2 Z"/>
<path d="M618.9 921.6 Q617.9 924.0 615.6 922.9 A63.8 63.8 0 0 1 593.4 905.0 Q591.9 903.0 594.0 901.5 L607.3 892.2 L625.2 906.7 Z"/>
<path d="M592.7 899.6 Q590.6 901.1 589.2 898.9 A63.8 63.8 0 0 1 579.8 868.0 Q579.8 865.4 582.4 865.5 L598.6 865.8 L606.0 890.3 Z"/>
<path d="M582.4 863.2 Q579.8 863.1 580.0 860.5 A63.8 63.8 0 0 1 586.8 836.5 Q588.0 834.2 590.3 835.5 L604.2 843.8 L598.6 863.5 Z"/>
<path fill="#fff" d="M693.6 866.0 L693.2 866.8 L692.7 867.7 L692.2 868.5 L691.7 869.3 L691.4 870.1 L691.2 870.9 L691.3 871.7 L691.5 872.6 L691.8 873.5 L692.2 874.4 L692.5 875.3 L692.6 876.2 L692.6 877.1 L692.4 877.9 L692.0 878.7 L691.3 879.4 L690.6 880.0 L689.9 880.7 L689.3 881.3 L688.7 882.0 L688.4 882.8 L688.2 883.6 L688.2 884.5 L688.3 885.4 L688.4 886.4 L688.4 887.3 L688.4 888.3 L688.1 889.1 L687.7 889.8 L687.1 890.5 L686.3 891.0 L685.4 891.5 L684.6 891.9 L683.8 892.4 L683.1 892.9 L682.6 893.5 L682.2 894.2 L681.9 895.1 L681.8 896.0 L681.6 897.0 L681.4 897.9 L681.1 898.8 L680.7 899.5 L680.1 900.1 L679.3 900.6 L678.4 900.9 L677.5 901.1 L676.5 901.3 L675.6 901.6 L674.8 901.9 L674.2 902.4 L673.6 903.0 L673.1 903.7 L672.7 904.6 L672.4 905.5 L671.9 906.4 L671.4 907.1 L670.8 907.7 L670.0 908.1 L669.2 908.4 L668.2 908.4 L667.3 908.4 L666.3 908.4 L665.4 908.4 L664.5 908.5 L663.7 908.8 L663.0 909.2 L662.4 909.8 L661.8 910.5 L661.2 911.3 L660.5 912.0 L659.8 912.6 L659.1 913.0 L658.2 913.2 L657.4 913.3 L656.4 913.1 L655.5 912.8 L654.6 912.5 L653.7 912.3 L652.8 912.2 L652.0 912.2 L651.2 912.5 L650.5 912.9 L649.7 913.4 L648.9 914.0 L648.1 914.6 L647.3 915.0 L646.4 915.2 L645.6 915.1 L644.7 914.9 L643.9 914.5 L643.0 914.0 L642.2 913.5 L641.4 913.0 L640.6 912.7 L639.8 912.5 L639.0 912.6 L638.1 912.8 L637.2 913.1 L636.3 913.5 L635.4 913.8 L634.5 913.9 L633.6 913.9 L632.8 913.7 L632.0 913.3 L631.3 912.6 L630.7 911.9 L630.0 911.2 L629.4 910.6 L628.7 910.0 L627.9 909.7 L627.1 909.5 L626.2 909.5 L625.3 909.6 L624.3 909.7 L623.4 909.7 L622.4 909.7 L621.6 909.4 L620.9 909.0 L620.2 908.4 L619.7 907.6 L619.2 906.7 L618.8 905.9 L618.3 905.1 L617.8 904.4 L617.2 903.9 L616.5 903.5 L615.6 903.2 L614.7 903.1 L613.7 902.9 L612.8 902.7 L611.9 902.4 L611.2 902.0 L610.6 901.4 L610.1 900.6 L609.8 899.7 L609.6 898.8 L609.4 897.8 L609.1 896.9 L608.8 896.1 L608.3 895.5 L607.7 894.9 L607.0 894.4 L606.1 894.0 L605.2 893.7 L604.3 893.2 L603.6 892.7 L603.0 892.1 L602.6 891.3 L602.3 890.5 L602.3 889.5 L602.3 888.6 L602.3 887.6 L602.3 886.7 L602.2 885.8 L601.9 885.0 L601.5 884.3 L600.9 883.7 L600.2 883.1 L599.4 882.5 L598.7 881.8 L598.1 881.1 L597.7 880.4 L597.5 879.5 L597.4 878.7 L597.6 877.7 L597.9 876.8 L598.2 875.9 L598.4 875.0 L598.5 874.1 L598.5 873.3 L598.2 872.5 L597.8 871.8 L597.3 871.0 L596.7 870.2 L596.1 869.4 L595.7 868.6 L595.5 867.7 L595.6 866.9 L595.8 866.0 L596.2 865.2 L596.7 864.3 L597.2 863.5 L597.7 862.7 L598.0 861.9 L598.2 861.1 L598.1 860.3 L597.9 859.4 L597.6 858.5 L597.2 857.6 L596.9 856.7 L596.8 855.8 L596.8 854.9 L597.0 854.1 L597.4 853.3 L598.1 852.6 L598.8 852.0 L599.5 851.3 L600.1 850.7 L600.7 850.0 L601.0 849.2 L601.2 848.4 L601.2 847.5 L601.1 846.6 L601.0 845.6 L601.0 844.7 L601.0 843.7 L601.3 842.9 L601.7 842.2 L602.3 841.5 L603.1 841.0 L604.0 840.5 L604.8 840.1 L605.6 839.6 L606.3 839.1 L606.8 838.5 L607.2 837.8 L607.5 836.9 L607.6 836.0 L607.8 835.0 L608.0 834.1 L608.3 833.2 L608.7 832.5 L609.3 831.9 L610.1 831.4 L611.0 831.1 L611.9 830.9 L612.9 830.7 L613.8 830.4 L614.6 830.1 L615.2 829.6 L615.8 829.0 L616.3 828.3 L616.7 827.4 L617.0 826.5 L617.5 825.6 L618.0 824.9 L618.6 824.3 L619.4 823.9 L620.2 823.6 L621.2 823.6 L622.1 823.6 L623.1 823.6 L624.0 823.6 L624.9 823.5 L625.7 823.2 L626.4 822.8 L627.0 822.2 L627.6 821.5 L628.2 820.7 L628.9 820.0 L629.6 819.4 L630.3 819.0 L631.2 818.8 L632.0 818.7 L633.0 818.9 L633.9 819.2 L634.8 819.5 L635.7 819.7 L636.6 819.8 L637.4 819.8 L638.2 819.5 L638.9 819.1 L639.7 818.6 L640.5 818.0 L641.3 817.4 L642.1 817.0 L643.0 816.8 L643.8 816.9 L644.7 817.1 L645.5 817.5 L646.4 818.0 L647.2 818.5 L648.0 819.0 L648.8 819.3 L649.6 819.5 L650.4 819.4 L651.3 819.2 L652.2 818.9 L653.1 818.5 L654.0 818.2 L654.9 818.1 L655.8 818.1 L656.6 818.3 L657.4 818.7 L658.1 819.4 L658.7 820.1 L659.4 820.8 L660.0 821.4 L660.7 822.0 L661.5 822.3 L662.3 822.5 L663.2 822.5 L664.1 822.4 L665.1 822.3 L666.0 822.3 L667.0 822.3 L667.8 822.6 L668.5 823.0 L669.2 823.6 L669.7 824.4 L670.2 825.3 L670.6 826.1 L671.1 826.9 L671.6 827.6 L672.2 828.1 L672.9 828.5 L673.8 828.8 L674.7 828.9 L675.7 829.1 L676.6 829.3 L677.5 829.6 L678.2 830.0 L678.8 830.6 L679.3 831.4 L679.6 832.3 L679.8 833.2 L680.0 834.2 L680.3 835.1 L680.6 835.9 L681.1 836.5 L681.7 837.1 L682.4 837.6 L683.3 838.0 L684.2 838.3 L685.1 838.8 L685.8 839.3 L686.4 839.9 L686.8 840.7 L687.1 841.5 L687.1 842.5 L687.1 843.4 L687.1 844.4 L687.1 845.3 L687.2 846.2 L687.5 847.0 L687.9 847.7 L688.5 848.3 L689.2 848.9 L690.0 849.5 L690.7 850.2 L691.3 850.9 L691.7 851.6 L691.9 852.5 L692.0 853.3 L691.8 854.3 L691.5 855.2 L691.2 856.1 L691.0 857.0 L690.9 857.9 L690.9 858.7 L691.2 859.5 L691.6 860.2 L692.1 861.0 L692.7 861.8 L693.3 862.6 L693.7 863.4 L693.9 864.3 L693.8 865.1 L693.6 866.0Z"/>
<circle cx="644.7" cy="866.0" r="36.8"/>
<path d="M650.5 834.8L652.9 833.7L659.8 836.6L669.2 843.6L670.9 847L670.3 850L659.8 851.7L654 849.4L651.1 845.9Z"/>
<path d="M643 844.7L647 843L648.2 847L644.7 848.8Z"/>
<path d="M659.8 858.1L665.7 856.4L668 861L663.3 864.5Z"/>
<path d="M609.2 866.8L612.1 864.5L616.8 864.5L619.1 866.3L613.3 870.3L610.4 870.3Z"/>
<path d="M615 883.1L620.3 878.5L623.8 878.5L624.9 880.8L621.4 885.5L617.9 886.6Z"/>
<path d="M628.4 880.8L630.7 877.9L635.4 882L633.1 886.6L629 884.3Z"/>
<path d="M612.2 874.3L615.6 873.2L615.1 875.6L612.7 876.1Z" fill="#231f20"/>
<path d="M648.2 821.4L650.5 819.1L655.2 819.7L664.5 823.8L666.8 824.9L669.2 828.4L673.8 830.7L678.5 831.3L683.1 833.1L686.6 838.9L687.2 845.9L690 851.7"/>
<path d="M650 823.8L655.2 822.6L664.5 825.5L667.4 828.4"/>
<path d="M660.8 872.9L662.5 869.4L674.8 864.1L679.1 865L678.3 874.6L673 883.3L669.5 886.8L666 885.1Z"/>
<path d="M631.1 895.6L638.1 886.8L641.6 886L653.8 890.3L657.3 893.8L655.6 897.3L645.1 899.1L634.6 898.2Z"/>
<path d="M652.1 883.3L657.3 879.8L660.8 884.2L655.6 886.8Z"/>
<path fill="#fff" d="M575.7 741L591.4 735.7L605 766.1L622.9 761.9L643.8 761.5L664.8 765.1L681.5 771.3L691 775.5L691 776.6L677.3 778.7L642.8 783.9L642.4 790L645.9 801.6L647.6 820.3L648.8 828.4L650.5 834.8L648 853.4C657 855 661.5 861 661 866.5C660.5 875 654 882.5 647 882.5C641 882.5 637 879.5 634.8 876.7L633.1 856.9L610.4 811.5L608.6 808.6L599.9 790L581 749.3Z"/>
<path d="M633.1 856.9L610.4 811.5L608.6 808.6L599.9 790L581 749.3L575.7 741L591.4 735.7L605 766.1L622.9 761.9C636 760.6 651 761.5 664.8 765.1L681.5 771.3L691 775.5L691 776.6L677.3 778.7L642.8 783.9L642.4 790L645.9 801.6L647.6 820.3L648.8 828.4L650.5 834.8"/>
<path d="M647 853.4C657 855 661.5 861 661 866.5C660.5 875 654 882.5 647 882.5C641 882.5 637 879.5 634.8 876.7"/>
<path d="M648.2 858.7C652.5 861 654.5 865 652.9 870.3"/>
<path d="M605 766.1L615 790L623.8 807.5L630.7 820.3L631.9 823.8L641.2 842.4L647 854.6L648.2 857.5"/>
<path d="M634.8 834.8C631 837 627 838 623.8 838.3"/>
<path d="M626.1 805.7L629 804L634.8 817.4L631.9 819.1Z"/>
<path d="M627.3 806.3L632.5 818" stroke-width="2.2"/>
<path fill="#fff" d="M606.9 814.4L610.4 812.1L617.9 827.3L617.4 829.6L615 827.8L613.3 824.9L611 823.8L610.4 821.4Z"/>
<path d="M566.8 809.6L558 809.6L567.9 794.4M566.2 810.2L579 797.4"/>
<path d="M566.2 790.4C566.2 786.3 570.3 784.6 573.8 786.3L579.6 791.5L583.7 797.9L585.4 804.9L586 816.6L588.9 825.9L592.4 830.5L595.9 832.9"/>
<path d="M569.1 791.5L572 788.6L577.3 793.3L581.3 799.1L583.1 806.1L583.7 817.7L586.6 827L590.6 832.3L594.7 833.4"/>
<path d="M566.2 790.4L567.4 792.7L570.3 792.1L570.8 789.8L569.1 788.6"/>
<path d="M574.9 785.7L581.9 781.1L586.6 778.7L591.2 775.8"/>
<path d="M581.3 770L581.9 774.7L582.5 780.5M586.6 770L586 774.7L586.6 778.1L591.2 775.2L588.9 770"/>
<ellipse cx="597.6" cy="825.9" rx="2" ry="3.2" transform="rotate(25 597.6 825.9)"/>
<circle cx="608.9" cy="839" r="7.7" fill="#fff"/>
<path d="M593.6 841L594.1 844.5L597 849.2L593.6 850.3L594.1 853.2L591.2 856.1L592.4 859.6L591.2 862.5"/>
<path d="M609.8 866.6L612.2 864.3L619.2 864.9L614.5 870"/>
<path d="M570.8 741.3L574.3 739.6L577.3 744.8L573.2 746Z"/>
<path d="M572.6 748.3L579.6 747.7"/>
<path d="M540 753.6L557.5 761.1C562.1 760 567.9 757 571.4 753.6L574.3 749.5L572.6 748.3"/>
<path d="M584.2 761.1C581.5 766 580.3 772 582.5 780.3" stroke-width="2.6"/>
<path d="M582.5 780.3L574.9 786.1"/>
<path d="M587.1 765.2L591.2 775.7L586 778L586.6 772.2Z"/>
<path d="M281.4 840.3L315 835.1M291.9 824.6L293 839.2"/>
<path d="M290.9 824.6L295.1 823.5L299.2 824.6L303.4 823.5L306.6 825.6"/>
<path d="M271 793.1L281.4 806.8L288.8 821.4L291.9 838.2"/>
<path d="M271 793.1L276.2 790M277.2 792.1L279.3 801.5L301.3 801.5L300.3 790"/>
<path fill="#fff" d="M305.5 817.2L310.8 816.2L327.5 823.5L332.8 831.9L350.6 829.8L354.8 833L353.7 837.2L348.5 838.2L340.1 839.2L338 842.4L348.5 850.8L352.7 857.1L361.1 857.1L365.3 860.2L364.2 864.4L359 865.4L354.8 863.3L348.5 861.2L342.2 860.2L333.8 858.1L329.6 850.8L325.4 846.6L319.2 840.3L310.8 827.7Z"/>
<path d="M346.4 867.5L343.3 872.8L350.6 877L352.7 867.5L355.8 866.5L357.9 878L354.8 879.1"/>
<path d="M250 892.7L254.2 886.4L255.2 882.2L250 880.1"/>
<path d="M381 792.9L379.9 798.4L375.7 811L376.8 827.7L379.9 838.2L378.9 852.9L381 873.8L378.9 884.3L373.6 888.5L363.2 887.4L344.3 882.2L334.9 878"/>
<path d="M359 790L354.8 798.4L348.5 819.3L347.4 828.8M349.5 840.3L352.7 855"/>
<path d="M346.4 790L352.7 794.2L354.8 790"/>
<path d="M392.5 844.5L405.1 870.7L430 873.8M394.6 842.4L400.9 848.7L413.5 852.9L430 850.8"/>
<path d="M348.5 893.1L398.8 893.1L403 895.8L430 896.9M348.5 893.1L344.3 896.9L352.7 905.3L359 906.3L371.5 905.3L430 905.3M371.5 906.3L384.1 913.6L430 913.6M327.5 902.1L350.6 904.2"/>
<circle cx="456.1" cy="839.8" r="19.4" fill="#fff"/>
<path d="M454.6 857.4A17 17 0 0 1 439.2 839" stroke-width="1.5"/>
<circle cx="456.25" cy="840.9" r="13.8" stroke-width="1.5"/>
<circle cx="456.25" cy="840.9" r="10.5" stroke-width="1.5"/>
<circle cx="456.25" cy="840.9" r="7.4" stroke-width="1.5"/>
<circle cx="456.25" cy="840.9" r="5.1" stroke-width="1.5"/>
<circle cx="456.25" cy="840.9" r="3.4" stroke-width="1.5"/>
<circle cx="456.25" cy="840.9" r="1.9" stroke-width="1.5"/>
<circle cx="416.5" cy="824.6" r="29.3" fill="#fff"/>
<circle cx="415.7" cy="826.6" r="18.5" stroke-width="1.4"/>
<circle cx="415.7" cy="826.6" r="16.5" stroke-width="1.4"/>
<circle cx="415.7" cy="826.6" r="10.5" stroke-width="2.8"/>
<path d="M458.9 790L449.2 821.4M491.2 790L471.2 852.9"/>
<path d="M400 859.2L404.2 870.7L437.7 873.8L450.3 861.2L481.7 862.3L469.2 882.2L462.9 888.5L450.3 894.8L431.4 897.9L400 896.9"/>
<path d="M450.3 882.2L469.2 863.3M469.2 882.2L472.3 875.9L479.6 873.8L480.7 877L475.4 877"/>
<path d="M400 905.3L458.7 904.2L473.3 906.3L479.6 897.9L467.1 890.6L462.9 888.5M400 913.6L431.4 913.6L452.4 912.6L460.8 908.4"/>
<path d="M473.3 906.3L494.3 905.3C509 903.2 519.4 890.6 525.7 869.6C528.2 857.1 528.7 831.9 523.6 806.8"/>
<path d="M479.6 894.8C488 893.7 493.3 886.4 498.5 869.6L511.1 815.1"/>
<path d="M481.7 862.3L485.9 852.9L496.4 851.8L498.5 857.1L497.4 870.7L479.6 871.7"/>
<path d="M485.9 852.9L488 844.5L487 840.3"/>
<path d="M484.9 823.5L490.1 821.4L509 817.2L511.1 815.1L510 827.7L498.5 857.1M484.9 823.5L488 825.6L492.2 838.2L493.3 831.9L498.5 824.6"/>
<path d="M523.6 806.8L529.9 800.5L536.2 800.5L542.5 790M527.8 811L534.1 808.9L536.2 827.7L533.1 830.9L529.9 827.7"/>
<path d="M521.5 790L498.5 855"/>
</g>
</svg>
<div class="lbl" id="l1" style="left:216.1px;top:10.5px;">Front Width</div>
<div class="lbl" id="l2" style="left:626.1px;top:471.5px;">Rear Width</div>
<div class="lbl" id="l3" style="left:41.8px;top:770.5px;">Rear<br>Height</div>
<div class="lbl" id="l4" style="left:803px;top:702.3px;">Front<br>Height</div>
<div class="lbl" id="l5" style="left:419.7px;top:975px;">Length</div>
</body></html>
